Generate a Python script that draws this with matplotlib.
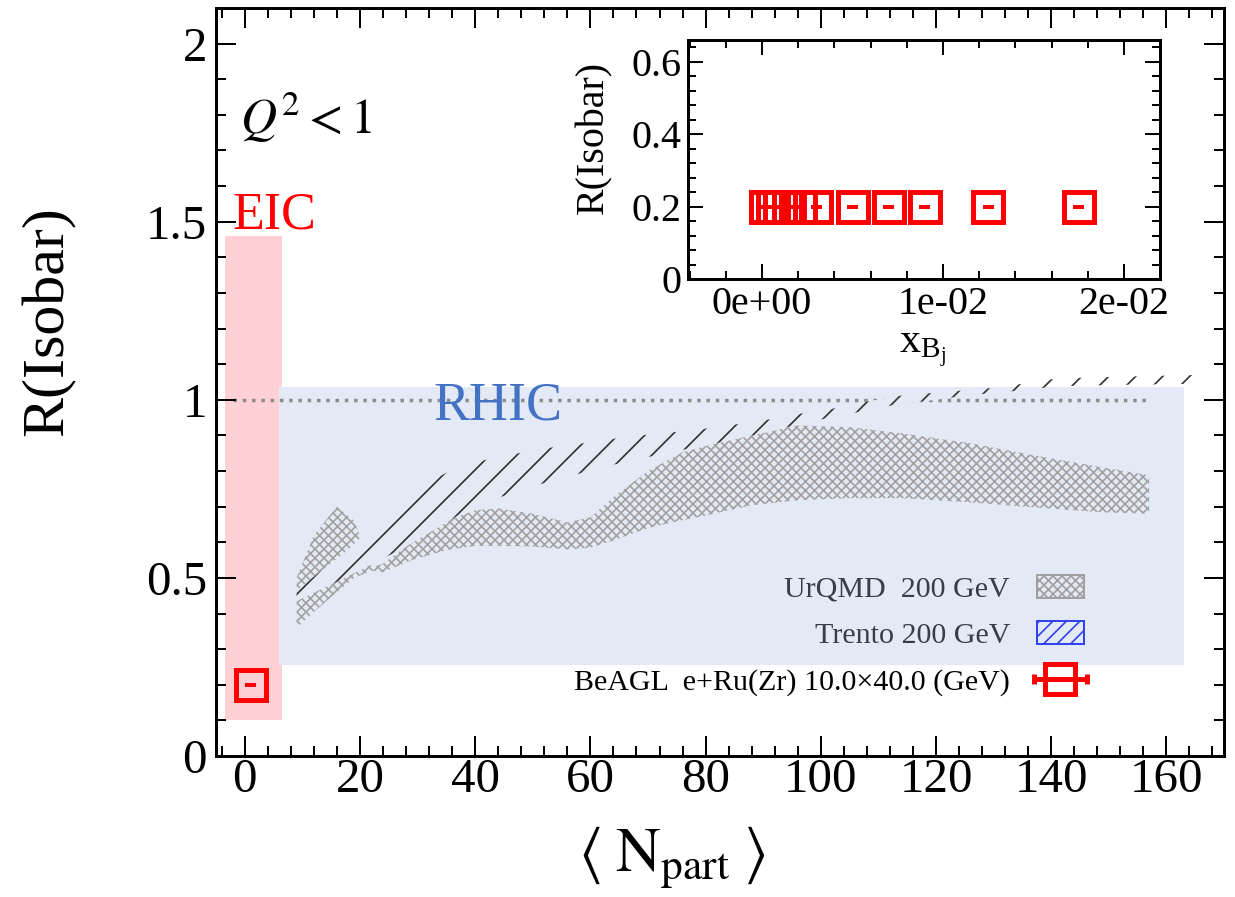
import numpy as np
import matplotlib
matplotlib.use("Agg")
import matplotlib.pyplot as plt
from matplotlib.patches import Rectangle, Patch
from matplotlib.ticker import MultipleLocator, FixedLocator, FixedFormatter
from matplotlib.legend_handler import HandlerErrorbar

# ---------------- data ----------------
# UrQMD 200 GeV band (R vs <Npart>)
urqmd_npart = [9, 12, 16, 19, 22, 24, 29, 35, 40, 44, 50, 56, 60, 64, 70, 76, 80,
               84, 88, 96, 105, 114, 126, 137, 149, 157]
urqmd_low = [0.36, 0.405, 0.46, 0.50, 0.52, 0.516, 0.55, 0.578, 0.59, 0.59, 0.588,
             0.58, 0.585, 0.605, 0.64, 0.662, 0.675, 0.69, 0.704, 0.718, 0.724,
             0.724, 0.712, 0.698, 0.684, 0.68]
urqmd_high = [0.50, 0.62, 0.70, 0.66, 0.53, 0.54, 0.60, 0.66, 0.69, 0.695, 0.68,
              0.656, 0.67, 0.727, 0.80, 0.853, 0.87, 0.89, 0.90, 0.928, 0.923,
              0.906, 0.878, 0.844, 0.81, 0.788]

# Trento 200 GeV band
trento_npart = [9, 18, 27.7, 37, 44, 50, 55, 61, 66, 72, 78, 84, 90, 96, 102, 108,
                114, 120, 126, 131, 141, 152, 166]
trento_low = [0.435, 0.505, 0.585, 0.675, 0.725, 0.757, 0.78, 0.805, 0.826, 0.846,
              0.866, 0.885, 0.907, 0.93, 0.952, 0.97, 0.99, 1.0, 1.014, 1.02,
              1.038, 1.042, 1.045]
trento_high = [0.465, 0.58, 0.734, 0.812, 0.84, 0.857, 0.871, 0.882, 0.896, 0.905,
               0.915, 0.928, 0.942, 0.96, 0.975, 0.995, 1.012, 1.02, 1.028, 1.035,
               1.06, 1.065, 1.07]

# BeAGL e+Ru(Zr) point (main panel)
eic_npart = [1.0]
eic_r = [0.2]
eic_npart_err = [1.0]

# BeAGL vs x_Bj (inset)
xbj = [0.0002, 0.0006, 0.0010, 0.0015, 0.0021, 0.0030, 0.0050, 0.0070, 0.0090,
       0.0125, 0.0175]
r_xbj = [0.2, 0.2, 0.2, 0.2, 0.2, 0.2, 0.2, 0.2, 0.2, 0.2, 0.2]
xbj_err = [0.0003, 0.0003, 0.0003, 0.0003, 0.0003, 0.0003, 0.0003, 0.0003, 0.0003,
           0.0003, 0.0003]

# shaded regions (x0, x1, y0, y1)
eic_region = (-3.5, 6.4, 0.10, 1.46)
rhic_region = (6.0, 163.0, 0.255, 1.035)
unity_range = (-2.0, 156.5)

main_xticks = [0, 20, 40, 60, 80, 100, 120, 140, 160]
main_xticklabels = ["0", "20", "40", "60", "80", "100", "120", "140", "160"]
main_yticks = [0, 0.5, 1, 1.5, 2]
main_yticklabels = ["0", "0.5", "1", "1.5", "2"]
inset_xticks = [0, 0.01, 0.02]
inset_xticklabels = ["0e+00", "1e-02", "2e-02"]
inset_yticks = [0, 0.2, 0.4, 0.6]
inset_yticklabels = ["0", "0.2", "0.4", "0.6"]

# ---------------- style ----------------
DPI = 81
W, H = 1235, 897
P = 72.0 / DPI  # points per pixel

plt.rcParams["font.family"] = ["Liberation Serif", "DejaVu Serif"]
plt.rcParams["mathtext.fontset"] = "custom"
plt.rcParams["mathtext.rm"] = "Liberation Serif"
plt.rcParams["mathtext.it"] = "Liberation Serif:italic"
plt.rcParams["mathtext.bf"] = "Liberation Serif:bold"
plt.rcParams["hatch.linewidth"] = 1.7 * P

BOX_BLUE = "#E4EAF5"
EIC_PINK = "#FFD1D5"
RED = "#FF0000"

fig = plt.figure(figsize=(W / DPI, H / DPI), dpi=DPI)
ax = fig.add_axes([216 / W, 1 - 756 / H, 1008 / W, 748 / H])

ax.set_xlim(-5, 170)
ax.set_ylim(0, 2.1)

# regions
ax.add_patch(Rectangle((eic_region[0], eic_region[2]), eic_region[1] - eic_region[0],
                       eic_region[3] - eic_region[2], facecolor=EIC_PINK,
                       edgecolor="none", zorder=0.5))
rhic_box = Rectangle((rhic_region[0], rhic_region[2]), rhic_region[1] - rhic_region[0],
                     rhic_region[3] - rhic_region[2], facecolor=BOX_BLUE,
                     edgecolor="none", zorder=0.6)
ax.add_patch(rhic_box)

ax.hlines(1.0, unity_range[0], unity_range[1], colors="#8c8c8c", linestyles=":",
          linewidth=3.5 * P, zorder=1)

# bands
ax.fill_between(urqmd_npart, urqmd_low, urqmd_high, facecolor="none",
                edgecolor="#a2a2a2", hatch="xxx", linewidth=0, zorder=2)
# Trento: opaque background only inside the RHIC box, hatch everywhere
tr_bg = ax.fill_between(trento_npart, trento_low, trento_high, facecolor=BOX_BLUE,
                        edgecolor="none", linewidth=0, zorder=2.5)
tr_bg.set_clip_path(rhic_box)
ax.fill_between(trento_npart, trento_low, trento_high, facecolor="none",
                edgecolor="#333333", hatch="/", linewidth=0, zorder=3)

# EIC point
ax.errorbar(eic_npart, eic_r, xerr=eic_npart_err, fmt="s", ms=27, mfc="none",
            mec=RED, mew=4.4, ecolor=RED, elinewidth=4 * P, capsize=0, zorder=6)

# texts
ax.text(-2.1, 1.48, "EIC", color=RED, fontsize=52 * P, ha="left", va="baseline")
ax.text(32.7, 0.945, "RHIC", color="#4472C4", fontsize=54 * P, ha="left",
        va="baseline", zorder=4)
ax.text((240 - 216) / 1008, (756 - 134) / 748, r"$Q^2 < 1$", transform=ax.transAxes,
        fontsize=50 * P, math_fontfamily="stix", ha="left", va="baseline")

# axes styling
ax.xaxis.set_major_locator(FixedLocator(main_xticks))
ax.xaxis.set_major_formatter(FixedFormatter(main_xticklabels))
ax.yaxis.set_major_locator(FixedLocator(main_yticks))
ax.yaxis.set_major_formatter(FixedFormatter(main_yticklabels))
ax.xaxis.set_minor_locator(MultipleLocator(4))
ax.yaxis.set_minor_locator(MultipleLocator(0.1))
ax.tick_params(which="both", direction="in", top=True, right=True,
               width=2 * P, labelsize=49 * P)
ax.tick_params(which="major", length=20 * P)
ax.tick_params(which="minor", length=10 * P)
ax.tick_params(axis="x", pad=2)
ax.tick_params(axis="y", pad=8)
for s in ax.spines.values():
    s.set_linewidth(3 * P)

ax.set_xlabel(r"$\langle\;\mathrm{N_{part}}\;\rangle$", fontsize=62 * P,
              math_fontfamily="stix")
ax.xaxis.set_label_coords((672 - 216) / 1008, (756 - 824) / 748)
ax.set_ylabel("R(Isobar)", fontsize=60 * P)
ax.yaxis.set_label_coords((76 - 216) / 1008, (756 - 321) / 748)

# legend
urqmd_h = Patch(facecolor="none", edgecolor="#a0a0a0", hatch="xxx", linewidth=2 * P)
trento_h = Patch(facecolor="none", edgecolor="#3344ee", hatch="//", linewidth=2 * P)
beagl_h = ax.errorbar([np.nan], [np.nan], xerr=[1.0], fmt="s", ms=27, mfc="none",
                      mec=RED, mew=4.4, ecolor=RED, elinewidth=5 * P,
                      capsize=5 * P, capthick=6 * P)
leg = ax.legend([urqmd_h, trento_h, beagl_h],
                ["UrQMD  200 GeV", "Trento 200 GeV",
                 "BeAGL  e+Ru(Zr) 10.0\u00d740.0 (GeV)"],
                loc="lower right", bbox_to_anchor=((1084 - 216) / 1008, (756 - 696) / 748),
                frameon=False, fontsize=30 * P, markerfirst=False, borderpad=0,
                borderaxespad=0, handlelength=1.57, handleheight=0.8,
                handletextpad=0.9, labelspacing=0.62,
                handler_map={beagl_h: HandlerErrorbar(xerr_size=0.87)})
for t, c in zip(leg.get_texts(), ["#3a3d48", "#3a3d48", "black"]):
    t.set_color(c)

# ---------------- inset ----------------
ins = fig.add_axes([688 / W, 1 - 279 / H, 472 / W, 239 / H])
ins.set_xlim(-0.00409, 0.02199)
ins.set_ylim(0, 0.66)
ins.errorbar(xbj, r_xbj, xerr=xbj_err, fmt="s", ms=27, mfc="none", mec=RED,
             mew=4.4, ecolor=RED, elinewidth=4 * P, capsize=0)
ins.xaxis.set_major_locator(FixedLocator(inset_xticks))
ins.xaxis.set_major_formatter(FixedFormatter(inset_xticklabels))
ins.yaxis.set_major_locator(FixedLocator(inset_yticks))
ins.yaxis.set_major_formatter(FixedFormatter(inset_yticklabels))
ins.xaxis.set_minor_locator(MultipleLocator(0.002))
ins.yaxis.set_minor_locator(MultipleLocator(0.04))
ins.tick_params(which="both", direction="in", top=True, right=True,
                width=2 * P, labelsize=40 * P)
ins.tick_params(which="major", length=15 * P)
ins.tick_params(which="minor", length=8 * P)
ins.tick_params(axis="x", pad=6)
ins.tick_params(axis="y", pad=6)
for s in ins.spines.values():
    s.set_linewidth(3 * P)
ins.set_ylabel("R(Isobar)", fontsize=40 * P)
ins.yaxis.set_label_coords((612 - 688) / 472, (279 - 138) / 239)
ins.set_xlabel(r"$\mathrm{x_{B_{j}}}$", fontsize=42 * P)
ins.xaxis.set_label_coords(0.496, (279 - 332) / 239)

fig.savefig("out.png", dpi=DPI)
